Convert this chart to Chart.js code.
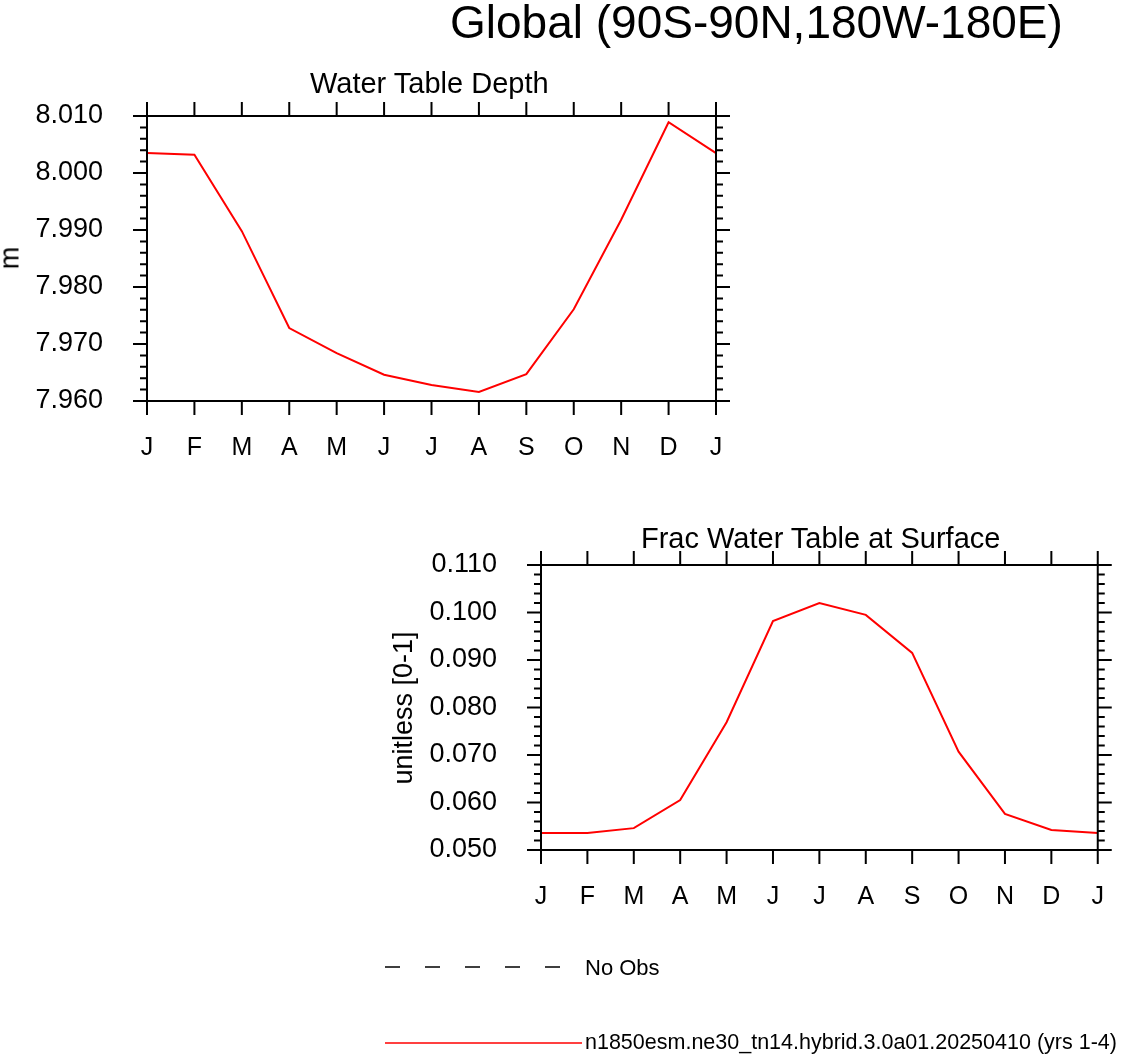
<!DOCTYPE html>
<html><head><meta charset="utf-8">
<script src="https://cdn.jsdelivr.net/npm/chart.js@4"></script>
<style>
body{margin:0;background:#fff;width:1128px;height:1055px;position:relative;overflow:hidden;font-family:"Liberation Sans",Arial,sans-serif}
canvas{position:absolute;left:0;top:0}
.t{position:absolute;white-space:nowrap;color:#000}
</style></head><body>
<canvas id="c1" width="760" height="480" style="width:760px;height:480px"></canvas>
<canvas id="c2" width="1128" height="920" style="width:1128px;height:920px"></canvas>
<div class="t" style="left:450px;top:-5px;font-size:46px">Global (90S-90N,180W-180E)</div>
<div class="t" style="left:310px;top:67px;font-size:29px">Water Table Depth</div>
<div class="t" style="left:641px;top:522px;font-size:29px">Frac Water Table at Surface</div>
<div class="t" style="left:10px;top:258px;font-size:27px;transform:translate(-50%,-50%) rotate(-90deg)">m</div>
<div class="t" style="left:403px;top:708px;font-size:27px;transform:translate(-50%,-50%) rotate(-90deg)">unitless [0-1]</div>
<svg style="position:absolute;left:0;top:0" width="1128" height="1055">
<line x1="385" y1="967" x2="565" y2="967" stroke="#000" stroke-width="1.5" stroke-dasharray="15 25"/>
<line x1="385" y1="1043" x2="582" y2="1043" stroke="#f00" stroke-width="1.5"/>
</svg>
<div class="t" style="left:585px;top:955px;font-size:22px">No Obs</div>
<div class="t" style="left:585px;top:1030px;font-size:21.5px">n1850esm.ne30_tn14.hybrid.3.0a01.20250410 (yrs 1-4)</div>
<script>
const months = ["J","F","M","A","M","J","J","A","S","O","N","D","J"];
const wtd = [8.0035,8.0032,7.9898,7.9728,7.9684,7.9646,7.9628,7.9616,7.9647,7.9761,7.9918,8.0089,8.0035];
const frac = [0.0536,0.0536,0.0546,0.0605,0.0769,0.0982,0.1020,0.0995,0.0915,0.0707,0.0576,0.0542,0.0536];
const wtdTicks = [7.960,7.970,7.980,7.990,8.000,8.010];
const fracTicks = [0.050,0.060,0.070,0.080,0.090,0.100,0.110];

const tickPlugin = {
  id:'ncl',
  afterDraw(ch){
    const o=ch.options.plugins.ncl, a=ch.chartArea, c=ch.ctx, x=ch.scales.x, y=ch.scales.y;
    c.save(); c.strokeStyle='#000'; c.lineWidth=2;
    c.strokeRect(a.left,a.top,a.right-a.left,a.bottom-a.top);
    c.beginPath();
    for(let i=0;i<months.length;i++){const px=x.getPixelForValue(i);
      c.moveTo(px,a.top);c.lineTo(px,a.top-14);c.moveTo(px,a.bottom);c.lineTo(px,a.bottom+14);}
    const n=Math.round((o.max-o.min)/o.minor);
    for(let i=0;i<=n;i++){const v=o.min+i*o.minor, py=y.getPixelForValue(v);
      const L=(i%5===0)?14:7;
      c.moveTo(a.left,py);c.lineTo(a.left-L,py);c.moveTo(a.right,py);c.lineTo(a.right+L,py);}
    c.stroke(); c.restore();
  }
};
function make(id,data,ticks,min,max,minor,leftW,rightPad,top,bottomH){
  new Chart(document.getElementById(id),{
    type:'line',
    data:{labels:months,datasets:[{data:data,borderColor:'#ff0000',borderWidth:2,pointRadius:0,tension:0,fill:false}]},
    options:{responsive:false,animation:false,
      layout:{padding:{top:top,right:rightPad,left:0,bottom:0}},
      plugins:{legend:{display:false},tooltip:{enabled:false},ncl:{min:min,max:max,minor:minor}},
      scales:{
        x:{type:'category',offset:false,grid:{display:false},border:{display:false},
           ticks:{font:{size:25,family:'Liberation Sans'},color:'#000',padding:24,maxRotation:0,autoSkip:false},
           afterFit(s){s.height=bottomH;}},
        y:{min:min,max:max,grid:{display:false},border:{display:false},
           afterBuildTicks(s){s.ticks=ticks.map(v=>({value:v}));},
           ticks:{font:{size:27,family:'Liberation Sans'},color:'#000',padding:36,callback:v=>v.toFixed(3)},
           afterFit(s){s.width=leftW;}}
      }},
    plugins:[tickPlugin]
  });
}
make('c1',wtd,wtdTicks,7.960,8.010,0.002,147,44,116,79);
make('c2',frac,fracTicks,0.050,0.110,0.002,541,4,565,70);
</script>
</body></html>
